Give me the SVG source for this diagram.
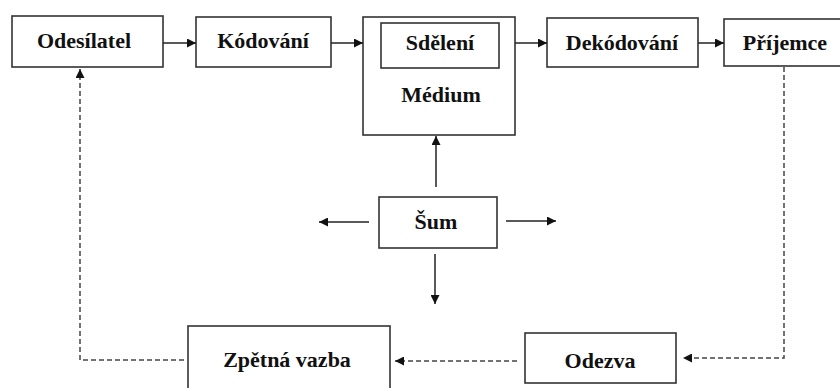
<svg xmlns="http://www.w3.org/2000/svg" width="840" height="388" viewBox="0 0 840 388">
<style>
.box{fill:#fff;stroke:#333;stroke-width:1.6}
.t{font-family:"Liberation Serif","Times New Roman","DejaVu Serif",serif;font-weight:bold;font-size:22px;fill:#111;text-anchor:middle}
.c{fill:none;stroke:#222;stroke-width:1.5}
.d{fill:none;stroke:#444;stroke-width:1.5;stroke-dasharray:5 3}
</style>
<defs>
<marker id="ah" viewBox="0 0 10 10" refX="10" refY="5" markerWidth="10" markerHeight="9" markerUnits="userSpaceOnUse" orient="auto">
<path d="M0,0 L10,5 L0,10 Z" fill="#111"/>
</marker>
</defs>
<rect width="840" height="388" fill="#fff"/>
<g id="odesilatel"><rect class="box" x="12" y="16" width="151" height="51"/><text class="t" x="84" y="48">Odesílatel</text></g>
<g id="kodovani"><rect class="box" x="196" y="17" width="135" height="50"/><text class="t" x="263" y="48">Kódování</text></g>
<g id="medium"><rect class="box" x="363" y="17" width="152" height="118"/><text class="t" x="441" y="102">Médium</text></g>
<g id="sdeleni"><rect class="box" x="381" y="23" width="118" height="45"/><text class="t" x="440" y="50">Sdělení</text></g>
<g id="dekodovani"><rect class="box" x="547" y="18" width="151" height="49"/><text class="t" x="622" y="50">Dekódování</text></g>
<g id="prijemce"><rect class="box" x="724" y="19" width="122" height="47"/><text class="t" x="785" y="50">Příjemce</text></g>
<g id="sum"><rect class="box" x="379" y="197" width="118" height="51"/><text class="t" x="436" y="229">Šum</text></g>
<g id="odezva"><rect class="box" x="525" y="333" width="151" height="50"/><text class="t" x="600" y="368">Odezva</text></g>
<g id="zpetna-vazba"><rect class="box" x="188" y="326" width="202" height="70"/><text class="t" x="287" y="367">Zpětná vazba</text></g>
<g id="connectors">
<line class="c" x1="163" y1="43" x2="196" y2="43" marker-end="url(#ah)"/>
<line class="c" x1="331" y1="43" x2="363" y2="43" marker-end="url(#ah)"/>
<line class="c" x1="515" y1="43" x2="547" y2="43" marker-end="url(#ah)"/>
<line class="c" x1="698" y1="43" x2="724" y2="43" marker-end="url(#ah)"/>
<line class="c" x1="436" y1="187" x2="436" y2="136" marker-end="url(#ah)"/>
<line class="c" x1="369" y1="222" x2="319" y2="222" marker-end="url(#ah)"/>
<line class="c" x1="506" y1="221" x2="556" y2="221" marker-end="url(#ah)"/>
<line class="c" x1="435" y1="254" x2="435" y2="304" marker-end="url(#ah)"/>
<path class="d" d="M784,67 V358 H683" marker-end="url(#ah)"/>
<line class="d" x1="517" y1="361" x2="395" y2="361" marker-end="url(#ah)"/>
<path class="d" d="M184,360 H80 V69" marker-end="url(#ah)"/>
</g>
</svg>
